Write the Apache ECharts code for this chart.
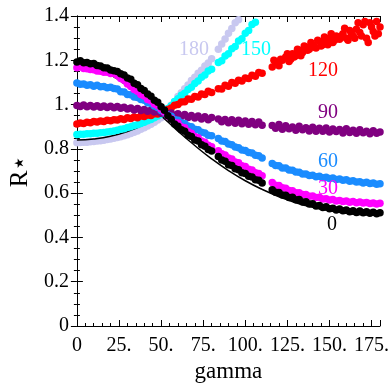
<!DOCTYPE html>
<html>
<head>
<meta charset="utf-8">
<script src="https://cdn.jsdelivr.net/npm/echarts@6/dist/echarts.min.js"></script>
<style>html,body{margin:0;padding:0;background:#fff}#c{width:392px;height:392px}</style>
</head>
<body>
<div id="c"></div>
<script>
// ---- data ----
const gamma = [0,2,4,6,8,10,12,14,16,18,20,22,
  24,26,28,30,32,34,36,38,40,42,44,46,48,50,52,54,56,58,60,62,64,66,68,70,72,74,76,78,80,
  84,86,88,90,92,94,96,98,100,102,104,106,108,110,
  116,118,120,122,124,126,128,130,132,134,136,138,140,142,144,146,148,150,152,154,156,158,160,162,164,166,168,170,172,174,176,178,180];

const r0 = [1.192,1.198,1.189,1.19,1.184,1.185,1.176,1.174,1.166,1.165,1.156,1.153,
  1.149,1.139,1.134,1.12,1.114,1.096,1.089,1.073,1.064,1.048,1.038,1.02,1.01,0.99,0.974,0.95,0.934,0.912,0.902,0.886,0.879,0.862,0.856,0.84,0.835,0.818,0.812,0.797,0.79,
  0.765,0.75,0.744,0.728,0.725,0.71,0.706,0.692,0.689,0.676,0.673,0.66,0.658,0.646,
  0.615,0.604,0.603,0.592,0.591,0.58,0.581,0.57,0.571,0.56,0.561,0.551,0.552,0.542,0.544,0.535,0.538,0.529,0.532,0.524,0.528,0.52,0.524,0.516,0.521,0.513,0.519,0.511,0.516,0.509,0.514,0.507,0.512];

const r30 = [1.166,1.171,1.163,1.162,1.158,1.157,1.152,1.151,1.146,1.146,1.14,1.141,
  1.131,1.118,1.11,1.093,1.082,1.068,1.06,1.046,1.039,1.023,1.017,1.003,0.995,0.98,0.966,0.948,0.937,0.918,0.917,0.9,0.895,0.878,0.871,0.856,0.85,0.836,0.83,0.816,0.81,
  0.792,0.778,0.772,0.759,0.754,0.741,0.737,0.724,0.72,0.708,0.704,0.692,0.689,0.678,
  0.648,0.636,0.634,0.624,0.622,0.612,0.611,0.602,0.602,0.594,0.594,0.586,0.587,0.58,0.581,0.574,0.575,0.569,0.571,0.565,0.567,0.562,0.564,0.559,0.562,0.557,0.56,0.555,0.558,0.553,0.556,0.551,0.554];

const r60 = [1.097,1.092,1.093,1.087,1.09,1.083,1.087,1.08,1.082,1.076,1.078,1.073,
  1.07,1.058,1.057,1.046,1.044,1.034,1.032,1.023,1.019,1.008,1.005,0.993,0.987,0.973,0.965,0.953,0.947,0.933,0.929,0.918,0.914,0.903,0.9,0.889,0.886,0.875,0.872,0.862,0.859,
  0.847,0.836,0.833,0.822,0.819,0.808,0.805,0.795,0.793,0.783,0.781,0.771,0.769,0.759,
  0.734,0.725,0.724,0.714,0.713,0.704,0.703,0.695,0.694,0.686,0.687,0.68,0.681,0.674,0.676,0.67,0.672,0.666,0.668,0.662,0.664,0.658,0.66,0.654,0.656,0.65,0.652,0.646,0.649,0.643,0.646,0.64,0.642];

const r90 = [0.996,0.991,0.998,0.99,0.996,0.989,0.995,0.988,0.994,0.987,0.992,0.986,
  0.991,0.983,0.988,0.98,0.985,0.976,0.982,0.973,0.978,0.97,0.974,0.966,0.969,0.961,0.962,0.955,0.962,0.951,0.958,0.946,0.955,0.942,0.951,0.939,0.948,0.935,0.945,0.932,0.942,
  0.935,0.922,0.933,0.918,0.931,0.916,0.929,0.913,0.926,0.911,0.924,0.909,0.921,0.907,
  0.905,0.893,0.91,0.889,0.904,0.891,0.899,0.884,0.902,0.886,0.895,0.881,0.898,0.879,0.893,0.88,0.894,0.876,0.89,0.878,0.887,0.872,0.891,0.874,0.884,0.87,0.886,0.873,0.88,0.868,0.882,0.871,0.876];

const r120 = [0.912,0.917,0.915,0.92,0.918,0.923,0.921,0.926,0.924,0.929,0.927,0.932,
  0.93,0.936,0.933,0.94,0.937,0.944,0.941,0.948,0.946,0.953,0.951,0.958,0.957,0.964,0.967,0.978,0.984,0.997,1.0,1.012,1.013,1.025,1.024,1.036,1.034,1.048,1.045,1.06,1.055,
  1.072,1.07,1.087,1.083,1.1,1.096,1.11,1.106,1.12,1.118,1.132,1.128,1.145,1.142,
  1.17,1.19,1.175,1.2,1.215,1.195,1.23,1.22,1.245,1.235,1.26,1.25,1.27,1.255,1.285,1.27,1.29,1.3,1.28,1.31,1.295,1.32,1.3,1.335,1.31,1.34,1.325,1.36,1.3,1.37,1.33,1.375,1.35];
const gamma120Extra = [117,121,125,127,129,131,133,135,137,139,141,143,145,147,149,151,153,157,159,161,163,165,167,169,171,173,175,177,179];
const r120Extra = [1.2,1.205,1.23,1.205,1.215,1.25,1.22,1.265,1.245,1.28,1.26,1.29,1.265,1.305,1.27,1.32,1.29,1.31,1.345,1.29,1.32,1.3,1.37,1.31,1.375,1.28,1.35,1.31,1.32];

const r150 = [0.865,0.866,0.866,0.868,0.868,0.87,0.871,0.873,0.874,0.876,0.878,0.881,
  0.884,0.888,0.891,0.896,0.9,0.905,0.909,0.915,0.92,0.927,0.933,0.941,0.948,0.957,0.967,0.982,0.995,1.014,1.026,1.042,1.051,1.068,1.078,1.095,1.106,1.123,1.134,1.152,1.16,
  1.19,1.198,1.219,1.23,1.252,1.262,1.287,1.297,1.322,1.335,1.362,1.372];

const r180 = [0.828,0.829,0.83,0.83,0.832,0.833,0.835,0.837,0.839,0.842,0.845,0.848,
  0.851,0.855,0.859,0.864,0.869,0.875,0.881,0.888,0.895,0.903,0.911,0.92,0.93,0.94,0.955,0.975,0.997,1.013,1.037,1.053,1.072,1.088,1.109,1.123,1.142,1.155,1.174,1.188,1.207,
  1.25,1.274,1.296,1.322,1.343,1.37,1.383];

const lineGamma = [0,10,20,30,40,50,60,70,80,90,100,110,120,130,140,150,160,170,180];
const lineFalling = [1.18,1.168,1.134,1.082,1.018,0.95,0.88,0.815,0.755,0.702,0.656,0.617,0.584,0.557,0.536,0.52,0.509,0.502,0.5];
const riseGamma = [0,10,20,30,40,50];
const lineRising = [0.84,0.845,0.857,0.878,0.909,0.95];

const xTicks = [0,25,50,75,100,125,150,175];
const yTicks = [0,0.2,0.4,0.6,0.8,1,1.2,1.4];

// ---- chart ----
const FONT = '"Liberation Serif", "Times New Roman", serif';
const pair = (xs, ys) => ys.map((y, i) => [xs[i], y]);
const fmtX = v => { if (v === 0) return '0'; return xTicks.indexOf(v) >= 0 ? v + '.' : ''; };
const fmtY = v => { if (Math.abs(v) < 1e-9) return '0'; if (Math.abs(v - 1) < 1e-9) return '1.'; return v.toFixed(1); };

const baseX = {type: 'value', min: 0, max: 180, splitLine: {show: false}};
const xAxes = [
  Object.assign({}, baseX, {position: 'bottom', interval: 25,
    axisLine: {show: true, lineStyle: {color: '#000', width: 1}},
    axisTick: {show: true, inside: true, length: 6, lineStyle: {color: '#000'}},
    axisLabel: {show: true, formatter: fmtX, color: '#000', fontFamily: FONT, fontSize: 20, margin: 10},
    name: 'gamma', nameLocation: 'middle', nameGap: 33,
    nameTextStyle: {color: '#000', fontFamily: FONT, fontSize: 23}}),
  Object.assign({}, baseX, {position: 'bottom', interval: 5,
    axisLine: {show: false}, axisTick: {show: true, inside: true, length: 3, lineStyle: {color: '#000'}},
    axisLabel: {show: false}}),
  Object.assign({}, baseX, {position: 'top', interval: 25,
    axisLine: {show: true, lineStyle: {color: '#000', width: 1}},
    axisTick: {show: true, inside: true, length: 6, lineStyle: {color: '#000'}},
    axisLabel: {show: false}}),
  Object.assign({}, baseX, {position: 'top', interval: 5,
    axisLine: {show: false}, axisTick: {show: true, inside: true, length: 3, lineStyle: {color: '#000'}},
    axisLabel: {show: false}})
];
const baseY = {type: 'value', min: 0, max: 1.4, interval: 0.2, splitLine: {show: false},
  axisLine: {show: true, lineStyle: {color: '#000', width: 1}},
  axisTick: {show: true, inside: true, length: 6, lineStyle: {color: '#000'}},
  minorTick: {show: true, splitNumber: 4, length: 3, lineStyle: {color: '#000'}},
  minorSplitLine: {show: false}};
const yAxes = [
  Object.assign({}, baseY, {position: 'left',
    axisLabel: {show: true, formatter: fmtY, color: '#000', fontFamily: FONT, fontSize: 20, margin: 8},
    name: 'R⋆', nameLocation: 'middle', nameGap: 42, nameRotate: 90,
    nameTextStyle: {color: '#000', fontFamily: FONT, fontSize: 25}}),
  Object.assign({}, baseY, {position: 'right', axisLabel: {show: false}})
];

function scat(name, data, color, z) {
  return {name, type: 'scatter', xAxisIndex: 0, yAxisIndex: 0, data, symbol: 'circle', symbolSize: 7.5,
    itemStyle: {color, opacity: 1}, z, silent: true};
}
function line(name, data) {
  return {name, type: 'line', xAxisIndex: 0, yAxisIndex: 0, data, smooth: true, showSymbol: false,
    symbol: 'none', lineStyle: {color: '#000', width: 1.5}, z: 2, silent: true};
}

const C = {c180: '#c8c8f0', c150: '#00ffff', c120: '#ff0000', c90: '#800080', c60: '#1a8cff', c30: '#ff00ff', c0: '#000000'};

const series = [
  scat('180', pair(gamma, r180), C.c180, 1),
  line('theory falling', pair(lineGamma, lineFalling)),
  line('theory rising', pair(riseGamma, lineRising)),
  scat('150', pair(gamma, r150), C.c150, 3),
  scat('120', pair(gamma, r120), C.c120, 3),
  scat('120b', pair(gamma120Extra, r120Extra), C.c120, 3),
  scat('90', pair(gamma, r90), C.c90, 3),
  scat('60', pair(gamma, r60), C.c60, 3),
  scat('30', pair(gamma, r30), C.c30, 3),
  scat('0', pair(gamma, r0), C.c0, 3)
];

const lab = (t, x, y, c) => ({type: 'text', x, y, z: 10,
  style: {text: t, fill: c, font: '20px ' + FONT, align: 'center', verticalAlign: 'middle',
    textAlign: 'center', textVerticalAlign: 'middle'}});

const chart = echarts.init(document.getElementById('c'), null, {renderer: 'canvas'});
chart.setOption({
  animation: false,
  backgroundColor: '#fff',
  grid: {left: 70, right: 12, top: 16, bottom: 66, containLabel: false},
  xAxis: xAxes,
  yAxis: yAxes,
  series,
  graphic: [
    lab('180', 194, 50, C.c180),
    lab('150', 256, 50, C.c150),
    lab('120', 323, 71, C.c120),
    lab('90', 328, 113, C.c90),
    lab('60', 328, 162, C.c60),
    lab('30', 328, 189, C.c30),
    lab('0', 332, 225, C.c0)
  ]
});
</script>
</body>
</html>
